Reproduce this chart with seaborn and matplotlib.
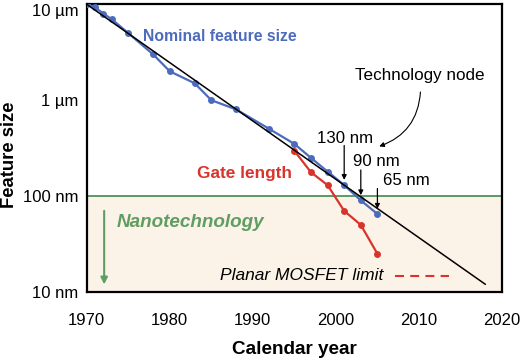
import matplotlib
matplotlib.use("Agg")
import matplotlib.pyplot as plt
import matplotlib.transforms as mtransforms
import seaborn as sns
import pandas as pd
import numpy as np

# ---- data ----
nominal_years = [1970, 1971, 1972, 1973, 1975, 1978, 1980, 1983, 1985, 1988, 1992, 1995, 1997, 1999, 2001, 2003, 2005]
nominal_nm = [10000, 9300, 8000, 7000, 5000, 3000, 2000, 1500, 1000, 800, 500, 350, 250, 180, 130, 90, 65]
gate_years = [1995, 1997, 1999, 2001, 2003, 2005]
gate_nm = [297, 177, 130, 70, 50, 25]
trend_years = [1970, 2018]
trend_nm = [10000, 12]
x_ticks = [1970, 1980, 1990, 2000, 2010, 2020]
y_ticks = [10, 100, 1000, 10000]
y_tick_labels = ["10 nm", "100 nm", "1 \u00b5m", "10 \u00b5m"]
node_labels = ["130 nm", "90 nm", "65 nm"]
node_years = [2001, 2003, 2005]
node_nm = [130, 90, 65]

sns.set_style("white")
plt.rcParams['font.family'] = ['Liberation Sans', 'DejaVu Sans']
plt.rcParams['text.color'] = 'black'
plt.rcParams['axes.labelcolor'] = 'black'
plt.rcParams['xtick.labelcolor'] = 'black'
plt.rcParams['ytick.labelcolor'] = 'black'

BLUE = "#4d6bbd"
RED = "#d8342c"
GREEN = "#3f8a4c"
GREEN_TXT = "#5f9d63"
SHADE = "#fcf3e8"

fig = plt.figure(figsize=(5.24, 3.64), dpi=100)
ax = fig.add_axes([0.1655, 0.198, 0.7925, 0.7902])

ax.set_yscale("log")
ax.set_xlim(1970, 2020)
ax.set_ylim(10, 10000)

# shaded nanotech region
ax.axhspan(10, 100, color=SHADE, zorder=0)
ax.axhline(100, color=GREEN, lw=1.2, zorder=1)

df_nom = pd.DataFrame({"year": nominal_years, "size": nominal_nm})
df_gate = pd.DataFrame({"year": gate_years, "size": gate_nm})
df_trend = pd.DataFrame({"year": trend_years, "size": trend_nm})

sns.lineplot(data=df_gate, x="year", y="size", ax=ax, color=RED, lw=1.6,
             marker="o", markersize=5, markeredgewidth=0, zorder=3)
sns.lineplot(data=df_nom, x="year", y="size", ax=ax, color=BLUE, lw=1.6,
             marker="o", markersize=5, markeredgewidth=0, zorder=4)
sns.lineplot(data=df_trend, x="year", y="size", ax=ax, color="black", lw=1.1, zorder=5)

ax.set_xticks(x_ticks)
ax.set_xticklabels([str(v) for v in x_ticks])
ax.set_yticks(y_ticks)
ax.set_yticklabels(y_tick_labels)
ax.minorticks_off()
ax.tick_params(axis="both", which="major", direction="in", length=3, color="#cccccc",
               labelsize=12, pad=6, labelcolor="black")
ax.tick_params(axis="x", pad=15)
for sp in ax.spines.values():
    sp.set_linewidth(1.6)
    sp.set_color("black")

# nudge the top tick label down so it stays inside the figure
top_lbl = ax.get_yticklabels()[-1]
top_lbl.set_transform(top_lbl.get_transform() +
                      mtransforms.ScaledTranslation(0, -4 / 72, fig.dpi_scale_trans))

ax.set_xlabel("Calendar year", fontsize=13.6, fontweight="bold", color="black")
ax.set_ylabel("Feature size", fontsize=13.3, fontweight="bold", color="black")
ax.xaxis.set_label_coords(0.5004, -0.2016)
ax.xaxis.label.set_va("center")
ax.yaxis.set_label_coords(-0.187, 0.476)
ax.yaxis.label.set_va("center")

# annotations
ax.text(1976.74, 4600, "Nominal feature size", color=BLUE, fontsize=11.3, fontweight="bold",
        va="center", ha="left")
ax.text(1983.24, 173, "Gate length", color=RED, fontsize=12.4, fontweight="bold",
        va="center", ha="left")
ax.text(1973.6, 53, "Nanotechnology", color=GREEN_TXT, fontsize=13.6, fontweight="bold",
        style="italic", va="center", ha="left")
ax.annotate("", xy=(1972.1, 11.2), xytext=(1972.1, 75),
            arrowprops=dict(arrowstyle="-|>", color=GREEN_TXT, lw=1.5, mutation_scale=10))
ax.text(2005.7, 14.8, "Planar MOSFET limit", color="black", fontsize=12.5,
        style="italic", va="center", ha="right")
ax.plot([2007.1, 2013.65], [14.8, 14.8], color=RED, lw=1.5, ls=(0, (4.3, 3)))

ax.text(2002.3, 1790, "Technology node", color="black", fontsize=12.3, va="center", ha="left")
ax.annotate("", xy=(2004.9, 323), xytext=(2010.2, 1300),
            arrowprops=dict(arrowstyle="-|>", color="black", lw=0.8, mutation_scale=7,
                            connectionstyle="arc3,rad=-0.35"))

label_pos = [(1997.69, 400), (2002.1, 229), (2005.64, 144)]
arrow_top = [360, 200, 128]
for lab, (tx, ty), yr, v, at in zip(node_labels, label_pos, node_years, node_nm, arrow_top):
    ax.text(tx, ty, lab, color="black", fontsize=12.1, va="center", ha="left")
    ax.annotate("", xy=(yr, v * 1.06), xytext=(yr, at),
                arrowprops=dict(arrowstyle="-|>", color="black", lw=0.9, mutation_scale=7))

fig.savefig("out.png", dpi=100)
